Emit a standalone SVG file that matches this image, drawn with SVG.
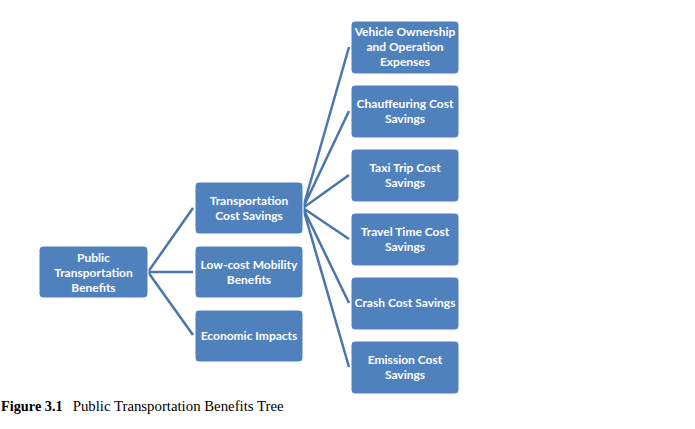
<svg xmlns="http://www.w3.org/2000/svg" width="695" height="429" viewBox="0 0 695 429">
<style>
.box{fill:#4F81BD;stroke:#FFFFFF;stroke-width:1}
.t{fill:#FFFFFF;font-family:Lato,"Open Sans",sans-serif;font-weight:bold;font-size:12px;text-anchor:middle}
.c{fill:none;stroke:#4A76AD;stroke-width:2.5}
.cap{font-family:"Liberation Serif",serif;font-size:14.3px;fill:#000}
</style>
<rect width="695" height="429" fill="#FFFFFF"/>
<g id="connectors">
<path class="c" d="M148,272 L193,208 M148,272 L193,272 M148,272 L193,335"/>
<path class="c" d="M303,208 L349,47 M303,208 L349,111 M303,208 L349,175 M303,208 L349,239 M303,208 L349,303 M303,208 L349,367"/>
</g>
<g id="root"><rect class="box" x="39" y="246" width="109" height="52" rx="4"/>
<text class="t" x="93.5" y="262">Public</text><text class="t" x="93.5" y="277">Transportation</text><text class="t" x="93.5" y="292">Benefits</text></g>
<g id="transport"><rect class="box" x="195" y="182" width="108" height="52" rx="4"/>
<text class="t" x="249" y="205">Transportation</text><text class="t" x="249" y="220">Cost Savings</text></g>
<g id="lowcost"><rect class="box" x="195" y="246" width="108" height="52" rx="4"/>
<text class="t" x="249" y="269">Low-cost Mobility</text><text class="t" x="249" y="284">Benefits</text></g>
<g id="economic"><rect class="box" x="195" y="310" width="108" height="52" rx="4"/>
<text class="t" x="249" y="340">Economic Impacts</text></g>
<g id="vehicle"><rect class="box" x="351" y="21" width="108" height="53" rx="4"/>
<text class="t" x="405" y="36">Vehicle Ownership</text><text class="t" x="405" y="51">and Operation</text><text class="t" x="405" y="66">Expenses</text></g>
<g id="chauffeur"><rect class="box" x="351" y="85" width="108" height="53" rx="4"/>
<text class="t" x="405" y="108">Chauffeuring Cost</text><text class="t" x="405" y="123">Savings</text></g>
<g id="taxi"><rect class="box" x="351" y="149" width="108" height="53" rx="4"/>
<text class="t" x="405" y="172">Taxi Trip Cost</text><text class="t" x="405" y="187">Savings</text></g>
<g id="travel"><rect class="box" x="351" y="213" width="108" height="53" rx="4"/>
<text class="t" x="405" y="236">Travel Time Cost</text><text class="t" x="405" y="251">Savings</text></g>
<g id="crash"><rect class="box" x="351" y="277" width="108" height="53" rx="4"/>
<text class="t" x="405" y="307">Crash Cost Savings</text></g>
<g id="emission"><rect class="box" x="351" y="341" width="108" height="53" rx="4"/>
<text class="t" x="405" y="364">Emission Cost</text><text class="t" x="405" y="379">Savings</text></g>
<text class="cap" x="1" y="411"><tspan font-weight="bold">Figure 3.1</tspan><tspan dx="10" font-size="14.8px">Public Transportation Benefits Tree</tspan></text>
</svg>
